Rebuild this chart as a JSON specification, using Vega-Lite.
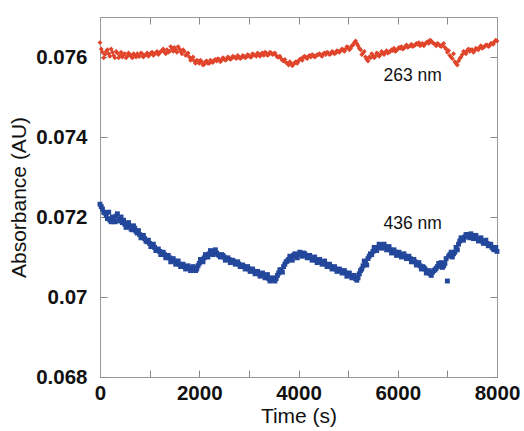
{
  "$schema": "https://vega.github.io/schema/vega-lite/v6.json",
  "width": 397,
  "height": 360,
  "autosize": {"type": "none"},
  "padding": {"left": 100, "top": 17, "right": 27, "bottom": 54},
  "background": "white",
  "config": {
    "view": {"stroke": "#999", "strokeWidth": 1},
    "font": "Liberation Sans",
    "axis": {
      "grid": false,
      "domainColor": "#999",
      "tickColor": "#888",
      "labelFont": "Liberation Sans",
      "labelFontWeight": "bold",
      "labelFontSize": 20.5,
      "labelColor": "#111",
      "titleFont": "Liberation Sans",
      "titleFontWeight": "normal",
      "titleFontSize": 21,
      "titleColor": "#111"
    }
  },
  "datasets": {
    "r263": [
      {"t":0,"a":0.07636},{"t":50,"a":0.07612},{"t":100,"a":0.07606},{"t":150,"a":0.07618},{"t":200,"a":0.07602},{"t":250,"a":0.07612},{"t":300,"a":0.07598},{"t":350,"a":0.0761},{"t":400,"a":0.07604},{"t":450,"a":0.076},
      {"t":500,"a":0.07608},{"t":550,"a":0.07602},{"t":600,"a":0.07606},{"t":650,"a":0.07598},{"t":700,"a":0.07604},{"t":750,"a":0.07608},{"t":800,"a":0.07602},{"t":850,"a":0.07608},{"t":900,"a":0.07604},{"t":950,"a":0.0761},
      {"t":1000,"a":0.07606},{"t":1050,"a":0.07612},{"t":1100,"a":0.07608},{"t":1150,"a":0.07614},{"t":1200,"a":0.0761},{"t":1250,"a":0.07616},{"t":1300,"a":0.07612},{"t":1350,"a":0.07618},{"t":1400,"a":0.07614},{"t":1450,"a":0.0762},
      {"t":1500,"a":0.07624},{"t":1550,"a":0.07612},{"t":1600,"a":0.0762},{"t":1650,"a":0.07608},{"t":1700,"a":0.07614},{"t":1750,"a":0.07606},{"t":1800,"a":0.076},{"t":1850,"a":0.07596},{"t":1900,"a":0.0759},{"t":1950,"a":0.07592},
      {"t":2000,"a":0.07584},{"t":2050,"a":0.07588},{"t":2100,"a":0.07582},{"t":2150,"a":0.0759},{"t":2200,"a":0.07584},{"t":2250,"a":0.07588},{"t":2300,"a":0.07592},{"t":2350,"a":0.0759},{"t":2400,"a":0.07594},{"t":2450,"a":0.07592},
      {"t":2500,"a":0.07596},{"t":2550,"a":0.07594},{"t":2600,"a":0.07598},{"t":2650,"a":0.07596},{"t":2700,"a":0.076},{"t":2750,"a":0.07596},{"t":2800,"a":0.076},{"t":2850,"a":0.07598},{"t":2900,"a":0.07602},{"t":2950,"a":0.076},
      {"t":3000,"a":0.07604},{"t":3050,"a":0.076},{"t":3100,"a":0.07606},{"t":3150,"a":0.07602},{"t":3200,"a":0.07606},{"t":3250,"a":0.07608},{"t":3300,"a":0.07604},{"t":3350,"a":0.0761},{"t":3400,"a":0.07606},{"t":3450,"a":0.0761},
      {"t":3500,"a":0.07608},{"t":3550,"a":0.07604},{"t":3600,"a":0.076},{"t":3650,"a":0.07596},{"t":3700,"a":0.0759},{"t":3750,"a":0.07586},{"t":3800,"a":0.0758},{"t":3850,"a":0.07584},{"t":3900,"a":0.07582},{"t":3950,"a":0.07588},
      {"t":4000,"a":0.0759},{"t":4050,"a":0.07596},{"t":4100,"a":0.076},{"t":4150,"a":0.07598},{"t":4200,"a":0.07602},{"t":4250,"a":0.076},{"t":4300,"a":0.07604},{"t":4350,"a":0.07602},{"t":4400,"a":0.07606},{"t":4450,"a":0.07604},
      {"t":4500,"a":0.07608},{"t":4550,"a":0.07606},{"t":4600,"a":0.0761},{"t":4650,"a":0.07608},{"t":4700,"a":0.07612},{"t":4750,"a":0.0761},{"t":4800,"a":0.07614},{"t":4850,"a":0.07616},{"t":4900,"a":0.07618},{"t":4950,"a":0.0762},
      {"t":5000,"a":0.07624},{"t":5050,"a":0.07622},{"t":5100,"a":0.0763},{"t":5150,"a":0.0764},{"t":5200,"a":0.07628},{"t":5250,"a":0.07618},{"t":5300,"a":0.0761},{"t":5350,"a":0.076},{"t":5400,"a":0.0759},{"t":5450,"a":0.07598},
      {"t":5500,"a":0.07604},{"t":5550,"a":0.07602},{"t":5600,"a":0.07608},{"t":5650,"a":0.07606},{"t":5700,"a":0.0761},{"t":5750,"a":0.07612},{"t":5800,"a":0.0761},{"t":5850,"a":0.07614},{"t":5900,"a":0.07616},{"t":5950,"a":0.07614},
      {"t":6000,"a":0.0762},{"t":6050,"a":0.07622},{"t":6100,"a":0.0762},{"t":6150,"a":0.07626},{"t":6200,"a":0.07624},{"t":6250,"a":0.07628},{"t":6300,"a":0.07626},{"t":6350,"a":0.0763},{"t":6400,"a":0.07632},{"t":6450,"a":0.07628},
      {"t":6500,"a":0.07634},{"t":6550,"a":0.07632},{"t":6600,"a":0.07638},{"t":6650,"a":0.07642},{"t":6700,"a":0.07636},{"t":6750,"a":0.07632},{"t":6800,"a":0.07634},{"t":6850,"a":0.07628},{"t":6900,"a":0.0763},{"t":6950,"a":0.07624},
      {"t":7000,"a":0.07612},{"t":7050,"a":0.07604},{"t":7100,"a":0.07596},{"t":7150,"a":0.07588},{"t":7200,"a":0.0758},{"t":7250,"a":0.07596},{"t":7300,"a":0.07606},{"t":7350,"a":0.07612},{"t":7400,"a":0.07616},{"t":7450,"a":0.07614},
      {"t":7500,"a":0.07618},{"t":7550,"a":0.07616},{"t":7600,"a":0.0762},{"t":7650,"a":0.07624},{"t":7700,"a":0.07622},{"t":7750,"a":0.07626},{"t":7800,"a":0.0763},{"t":7850,"a":0.07628},{"t":7900,"a":0.07634},{"t":7950,"a":0.07638},
      {"t":8000,"a":0.0764},
      {"t":25,"a":0.0762},{"t":75,"a":0.07598},{"t":125,"a":0.07614},{"t":175,"a":0.07608},{"t":225,"a":0.0762},{"t":275,"a":0.07604},{"t":325,"a":0.07614},{"t":375,"a":0.07598},{"t":425,"a":0.07612},{"t":475,"a":0.07606},
      {"t":525,"a":0.07598},{"t":575,"a":0.0761},{"t":625,"a":0.07602},{"t":675,"a":0.07608},{"t":725,"a":0.076},{"t":775,"a":0.07602},{"t":825,"a":0.0761},{"t":875,"a":0.076},{"t":925,"a":0.07606},{"t":975,"a":0.07602},
      {"t":1025,"a":0.0761},{"t":1075,"a":0.07604},{"t":1125,"a":0.0761},{"t":1175,"a":0.07606},{"t":1225,"a":0.07614},{"t":1275,"a":0.0762},{"t":1325,"a":0.07608},{"t":1375,"a":0.07612},{"t":1425,"a":0.07626},{"t":1475,"a":0.07614},
      {"t":1525,"a":0.07618},{"t":1575,"a":0.07626},{"t":1625,"a":0.07614},{"t":1675,"a":0.07618},{"t":1725,"a":0.07604},{"t":1775,"a":0.0761},{"t":1825,"a":0.07592},{"t":1875,"a":0.076},{"t":1925,"a":0.07584},{"t":1975,"a":0.0759},
      {"t":2025,"a":0.07592},{"t":2075,"a":0.0758},{"t":2125,"a":0.07588},{"t":2175,"a":0.07584},{"t":2225,"a":0.07592},{"t":2275,"a":0.07586},{"t":2325,"a":0.07594},{"t":2375,"a":0.07596},{"t":2425,"a":0.07588},{"t":2475,"a":0.07598},
      {"t":2525,"a":0.07592},{"t":2575,"a":0.076},{"t":2625,"a":0.07594},{"t":2675,"a":0.07602},{"t":2725,"a":0.07598},{"t":2775,"a":0.07604},{"t":2825,"a":0.07596},{"t":2875,"a":0.07604},{"t":2925,"a":0.07598},{"t":2975,"a":0.07606},
      {"t":3025,"a":0.076},{"t":3075,"a":0.07608},{"t":3125,"a":0.07604},{"t":3175,"a":0.0761},{"t":3225,"a":0.07602},{"t":3275,"a":0.0761},{"t":3325,"a":0.07612},{"t":3375,"a":0.07604},{"t":3425,"a":0.07612},{"t":3475,"a":0.07606},
      {"t":3525,"a":0.0761},{"t":3575,"a":0.076},{"t":3625,"a":0.07602},{"t":3675,"a":0.07592},{"t":3725,"a":0.07594},{"t":3775,"a":0.07584},{"t":3825,"a":0.07588},{"t":3875,"a":0.07578},{"t":3925,"a":0.07586},{"t":3975,"a":0.07584},
      {"t":4025,"a":0.07594},{"t":4075,"a":0.07592},{"t":4125,"a":0.07602},{"t":4175,"a":0.07596},{"t":4225,"a":0.07604},{"t":4275,"a":0.07606},{"t":4325,"a":0.076},{"t":4375,"a":0.07606},{"t":4425,"a":0.07608},{"t":4475,"a":0.07602},
      {"t":4525,"a":0.0761},{"t":4575,"a":0.07612},{"t":4625,"a":0.07606},{"t":4675,"a":0.07614},{"t":4725,"a":0.07608},{"t":4775,"a":0.07616},{"t":4825,"a":0.07612},{"t":4875,"a":0.0762},{"t":4925,"a":0.07614},{"t":4975,"a":0.07626},
      {"t":5025,"a":0.07618},{"t":5075,"a":0.07628},{"t":5125,"a":0.07636},{"t":5175,"a":0.07634},{"t":5225,"a":0.07622},{"t":5275,"a":0.07606},{"t":5325,"a":0.07614},{"t":5375,"a":0.07594},{"t":5425,"a":0.076},{"t":5475,"a":0.07608},
      {"t":5525,"a":0.07598},{"t":5575,"a":0.0761},{"t":5625,"a":0.07602},{"t":5675,"a":0.07614},{"t":5725,"a":0.07606},{"t":5775,"a":0.07616},{"t":5825,"a":0.07612},{"t":5875,"a":0.07618},{"t":5925,"a":0.07622},{"t":5975,"a":0.07616},
      {"t":6025,"a":0.07624},{"t":6075,"a":0.07626},{"t":6125,"a":0.07622},{"t":6175,"a":0.0763},{"t":6225,"a":0.07626},{"t":6275,"a":0.07632},{"t":6325,"a":0.07628},{"t":6375,"a":0.07634},{"t":6425,"a":0.07636},{"t":6475,"a":0.07632},
      {"t":6525,"a":0.07628},{"t":6575,"a":0.07636},{"t":6625,"a":0.07634},{"t":6675,"a":0.0764},{"t":6725,"a":0.07634},{"t":6775,"a":0.07628},{"t":6825,"a":0.07632},{"t":6875,"a":0.07626},{"t":6925,"a":0.07634},{"t":6975,"a":0.0762},
      {"t":7025,"a":0.07616},{"t":7075,"a":0.076},{"t":7125,"a":0.07608},{"t":7175,"a":0.07584},{"t":7225,"a":0.0759},{"t":7275,"a":0.076},{"t":7325,"a":0.07614},{"t":7375,"a":0.07608},{"t":7425,"a":0.0762},{"t":7475,"a":0.07618},
      {"t":7525,"a":0.07612},{"t":7575,"a":0.07622},{"t":7625,"a":0.07618},{"t":7675,"a":0.07628},{"t":7725,"a":0.07624},{"t":7775,"a":0.0763},{"t":7825,"a":0.07626},{"t":7875,"a":0.07634},{"t":7925,"a":0.07632},{"t":7975,"a":0.07642}
    ],
    "b436": [
      {"t":0,"a":0.07232},{"t":50,"a":0.0722},{"t":100,"a":0.0721},{"t":150,"a":0.07196},{"t":200,"a":0.07192},{"t":250,"a":0.072},{"t":300,"a":0.07188},{"t":350,"a":0.07208},{"t":400,"a":0.07194},{"t":450,"a":0.07186},
      {"t":500,"a":0.07182},{"t":550,"a":0.0718},{"t":600,"a":0.07176},{"t":650,"a":0.07168},{"t":700,"a":0.07172},{"t":750,"a":0.0716},{"t":800,"a":0.07156},{"t":850,"a":0.0715},{"t":900,"a":0.07146},{"t":950,"a":0.07138},
      {"t":1000,"a":0.07134},{"t":1050,"a":0.07128},{"t":1100,"a":0.07124},{"t":1150,"a":0.07118},{"t":1200,"a":0.07114},{"t":1250,"a":0.0711},{"t":1300,"a":0.07106},{"t":1350,"a":0.071},{"t":1400,"a":0.07098},{"t":1450,"a":0.07094},
      {"t":1500,"a":0.0709},{"t":1550,"a":0.07086},{"t":1600,"a":0.07082},{"t":1650,"a":0.07078},{"t":1700,"a":0.07076},{"t":1750,"a":0.07074},{"t":1800,"a":0.07072},{"t":1850,"a":0.0707},{"t":1900,"a":0.07072},{"t":1950,"a":0.0707},
      {"t":2000,"a":0.07084},{"t":2050,"a":0.0709},{"t":2100,"a":0.07098},{"t":2150,"a":0.07102},{"t":2200,"a":0.07108},{"t":2250,"a":0.07112},{"t":2300,"a":0.07114},{"t":2350,"a":0.0711},{"t":2400,"a":0.07104},{"t":2450,"a":0.07106},
      {"t":2500,"a":0.071},{"t":2550,"a":0.07096},{"t":2600,"a":0.07094},{"t":2650,"a":0.0709},{"t":2700,"a":0.07088},{"t":2750,"a":0.07086},{"t":2800,"a":0.07082},{"t":2850,"a":0.07078},{"t":2900,"a":0.07076},{"t":2950,"a":0.07072},
      {"t":3000,"a":0.0707},{"t":3050,"a":0.07066},{"t":3100,"a":0.07064},{"t":3150,"a":0.07062},{"t":3200,"a":0.07058},{"t":3250,"a":0.07056},{"t":3300,"a":0.07054},{"t":3350,"a":0.07052},{"t":3400,"a":0.07046},{"t":3450,"a":0.07044},
      {"t":3500,"a":0.07042},{"t":3550,"a":0.07046},{"t":3600,"a":0.0706},{"t":3650,"a":0.07068},{"t":3700,"a":0.07076},{"t":3750,"a":0.07088},{"t":3800,"a":0.07094},{"t":3850,"a":0.07098},{"t":3900,"a":0.07104},{"t":3950,"a":0.07102},
      {"t":4000,"a":0.07106},{"t":4050,"a":0.07108},{"t":4100,"a":0.0711},{"t":4150,"a":0.07104},{"t":4200,"a":0.071},{"t":4250,"a":0.07098},{"t":4300,"a":0.07096},{"t":4350,"a":0.07092},{"t":4400,"a":0.0709},{"t":4450,"a":0.07088},
      {"t":4500,"a":0.07086},{"t":4550,"a":0.07082},{"t":4600,"a":0.07078},{"t":4650,"a":0.07076},{"t":4700,"a":0.07072},{"t":4750,"a":0.0707},{"t":4800,"a":0.07068},{"t":4850,"a":0.07066},{"t":4900,"a":0.07062},{"t":4950,"a":0.0706},
      {"t":5000,"a":0.07056},{"t":5050,"a":0.07054},{"t":5100,"a":0.0705},{"t":5150,"a":0.07046},{"t":5200,"a":0.07048},{"t":5250,"a":0.07066},{"t":5300,"a":0.07078},{"t":5350,"a":0.07086},{"t":5400,"a":0.07096},{"t":5450,"a":0.07108},
      {"t":5500,"a":0.07114},{"t":5550,"a":0.0712},{"t":5600,"a":0.07124},{"t":5650,"a":0.07128},{"t":5700,"a":0.0713},{"t":5750,"a":0.07126},{"t":5800,"a":0.07122},{"t":5850,"a":0.07118},{"t":5900,"a":0.07114},{"t":5950,"a":0.07112},
      {"t":6000,"a":0.07108},{"t":6050,"a":0.07106},{"t":6100,"a":0.07104},{"t":6150,"a":0.07102},{"t":6200,"a":0.07098},{"t":6250,"a":0.07096},{"t":6300,"a":0.0709},{"t":6350,"a":0.07088},{"t":6400,"a":0.07082},{"t":6450,"a":0.07078},
      {"t":6500,"a":0.07076},{"t":6550,"a":0.0707},{"t":6600,"a":0.07064},{"t":6650,"a":0.07058},{"t":6700,"a":0.07062},{"t":6750,"a":0.07068},{"t":6800,"a":0.07076},{"t":6850,"a":0.0708},{"t":6900,"a":0.07074},{"t":6950,"a":0.07084},
      {"t":7000,"a":0.0704},{"t":7050,"a":0.07106},{"t":7100,"a":0.071},{"t":7150,"a":0.07112},{"t":7200,"a":0.07118},{"t":7250,"a":0.0714},{"t":7300,"a":0.07146},{"t":7350,"a":0.0715},{"t":7400,"a":0.07156},{"t":7450,"a":0.07148},
      {"t":7500,"a":0.07154},{"t":7550,"a":0.0715},{"t":7600,"a":0.07146},{"t":7650,"a":0.07144},{"t":7700,"a":0.0714},{"t":7750,"a":0.07138},{"t":7800,"a":0.07134},{"t":7850,"a":0.0713},{"t":7900,"a":0.07124},{"t":7950,"a":0.07118},
      {"t":8000,"a":0.07114},
      {"t":25,"a":0.07226},{"t":75,"a":0.07212},{"t":125,"a":0.07204},{"t":175,"a":0.07212},{"t":225,"a":0.07188},{"t":275,"a":0.07194},{"t":325,"a":0.07202},{"t":375,"a":0.0719},{"t":425,"a":0.072},{"t":475,"a":0.07192},
      {"t":525,"a":0.07174},{"t":575,"a":0.07186},{"t":625,"a":0.0717},{"t":675,"a":0.07178},{"t":725,"a":0.07164},{"t":775,"a":0.07166},{"t":825,"a":0.07148},{"t":875,"a":0.07154},{"t":925,"a":0.0714},{"t":975,"a":0.07142},
      {"t":1025,"a":0.07126},{"t":1075,"a":0.07132},{"t":1125,"a":0.07116},{"t":1175,"a":0.0712},{"t":1225,"a":0.07106},{"t":1275,"a":0.07112},{"t":1325,"a":0.07098},{"t":1375,"a":0.07104},{"t":1425,"a":0.07088},{"t":1475,"a":0.07096},
      {"t":1525,"a":0.07082},{"t":1575,"a":0.0709},{"t":1625,"a":0.07076},{"t":1675,"a":0.07082},{"t":1725,"a":0.0707},{"t":1775,"a":0.07078},{"t":1825,"a":0.07066},{"t":1875,"a":0.07076},{"t":1925,"a":0.07066},{"t":1975,"a":0.07078},
      {"t":2025,"a":0.07094},{"t":2075,"a":0.07088},{"t":2125,"a":0.07106},{"t":2175,"a":0.071},{"t":2225,"a":0.07116},{"t":2275,"a":0.07106},{"t":2325,"a":0.07118},{"t":2375,"a":0.07106},{"t":2425,"a":0.071},{"t":2475,"a":0.07104},
      {"t":2525,"a":0.07092},{"t":2575,"a":0.07098},{"t":2625,"a":0.07086},{"t":2675,"a":0.07092},{"t":2725,"a":0.07082},{"t":2775,"a":0.07088},{"t":2825,"a":0.07076},{"t":2875,"a":0.0708},{"t":2925,"a":0.0707},{"t":2975,"a":0.07076},
      {"t":3025,"a":0.07064},{"t":3075,"a":0.0707},{"t":3125,"a":0.07058},{"t":3175,"a":0.07064},{"t":3225,"a":0.07052},{"t":3275,"a":0.0706},{"t":3325,"a":0.07048},{"t":3375,"a":0.07056},{"t":3425,"a":0.0704},{"t":3475,"a":0.07048},
      {"t":3525,"a":0.0704},{"t":3575,"a":0.07054},{"t":3625,"a":0.07068},{"t":3675,"a":0.07062},{"t":3725,"a":0.07082},{"t":3775,"a":0.0709},{"t":3825,"a":0.07102},{"t":3875,"a":0.07092},{"t":3925,"a":0.07108},{"t":3975,"a":0.07098},
      {"t":4025,"a":0.07112},{"t":4075,"a":0.07102},{"t":4125,"a":0.07108},{"t":4175,"a":0.07098},{"t":4225,"a":0.07104},{"t":4275,"a":0.07092},{"t":4325,"a":0.071},{"t":4375,"a":0.07086},{"t":4425,"a":0.07094},{"t":4475,"a":0.07082},
      {"t":4525,"a":0.0709},{"t":4575,"a":0.07076},{"t":4625,"a":0.07082},{"t":4675,"a":0.0707},{"t":4725,"a":0.07076},{"t":4775,"a":0.07064},{"t":4825,"a":0.0707},{"t":4875,"a":0.0706},{"t":4925,"a":0.07066},{"t":4975,"a":0.07052},
      {"t":5025,"a":0.0706},{"t":5075,"a":0.07048},{"t":5125,"a":0.07054},{"t":5175,"a":0.07042},{"t":5225,"a":0.07058},{"t":5275,"a":0.0707},{"t":5325,"a":0.0709},{"t":5375,"a":0.0708},{"t":5425,"a":0.07102},{"t":5475,"a":0.07106},
      {"t":5525,"a":0.07124},{"t":5575,"a":0.07116},{"t":5625,"a":0.07132},{"t":5675,"a":0.07122},{"t":5725,"a":0.07132},{"t":5775,"a":0.07118},{"t":5825,"a":0.07126},{"t":5875,"a":0.0711},{"t":5925,"a":0.07118},{"t":5975,"a":0.07104},
      {"t":6025,"a":0.07112},{"t":6075,"a":0.071},{"t":6125,"a":0.07108},{"t":6175,"a":0.07096},{"t":6225,"a":0.07102},{"t":6275,"a":0.07088},{"t":6325,"a":0.07094},{"t":6375,"a":0.0708},{"t":6425,"a":0.07086},{"t":6475,"a":0.0707},
      {"t":6525,"a":0.07074},{"t":6575,"a":0.0706},{"t":6625,"a":0.07066},{"t":6675,"a":0.07054},{"t":6725,"a":0.07066},{"t":6775,"a":0.07072},{"t":6825,"a":0.07084},{"t":6875,"a":0.07086},{"t":6925,"a":0.07078},{"t":6975,"a":0.07096},
      {"t":7025,"a":0.07102},{"t":7075,"a":0.07112},{"t":7125,"a":0.07108},{"t":7175,"a":0.07124},{"t":7225,"a":0.07132},{"t":7275,"a":0.07148},{"t":7325,"a":0.07142},{"t":7375,"a":0.07156},{"t":7425,"a":0.07152},{"t":7475,"a":0.07158},
      {"t":7525,"a":0.07146},{"t":7575,"a":0.07154},{"t":7625,"a":0.0714},{"t":7675,"a":0.07148},{"t":7725,"a":0.07134},{"t":7775,"a":0.07142},{"t":7825,"a":0.07128},{"t":7875,"a":0.07132},{"t":7925,"a":0.0712},{"t":7975,"a":0.07124}
    ]
  },
  "layer": [
    {
      "data": {"name": "r263"},
      "mark": {"type": "point", "shape": "diamond", "filled": true, "size": 24, "color": "#E0452B", "opacity": 1},
      "encoding": {
        "x": {"field": "t", "type": "quantitative", "scale": {"domain": [0, 8000], "nice": false},
              "axis": {"orient": "bottom", "title": "Time (s)", "values": [0,1000,2000,3000,4000,5000,6000,7000,8000],
                       "labelExpr": "datum.value % 2000 === 0 ? datum.label : ''", "format": "d",
                       "tickSize": -7, "labelPadding": 13, "titlePadding": 2, "labelFlush": false}},
        "y": {"field": "a", "type": "quantitative", "scale": {"domain": [0.068, 0.077], "nice": false, "zero": false},
              "axis": {"orient": "left", "title": "Absorbance (AU)", "values": [0.068,0.07,0.072,0.074,0.076],
                       "format": ".3~f", "tickSize": -7, "labelPadding": 20, "titlePadding": 6, "labelFlush": false}}
      }
    },
    {
      "data": {"name": "b436"},
      "mark": {"type": "square", "size": 24, "color": "#23479B", "opacity": 1},
      "encoding": {
        "x": {"field": "t", "type": "quantitative",
              "axis": {"orient": "top", "title": null, "labels": false, "values": [0,1000,2000,3000,4000,5000,6000,7000,8000], "tickSize": -7}},
        "y": {"field": "a", "type": "quantitative",
              "axis": {"orient": "right", "title": null, "labels": false, "values": [0.068,0.07,0.072,0.074,0.076], "tickSize": -7}}
      }
    },
    {
      "data": {"values": [{"t": 6300, "a": 0.07553, "label": "263 nm"}, {"t": 6300, "a": 0.07183, "label": "436 nm"}]},
      "mark": {"type": "text", "fontSize": 17.5, "font": "Liberation Sans", "color": "#111"},
      "encoding": {
        "x": {"field": "t", "type": "quantitative", "axis": null},
        "y": {"field": "a", "type": "quantitative", "axis": null},
        "text": {"field": "label"}
      }
    }
  ],
  "resolve": {"axis": {"x": "independent", "y": "independent"}}
}
